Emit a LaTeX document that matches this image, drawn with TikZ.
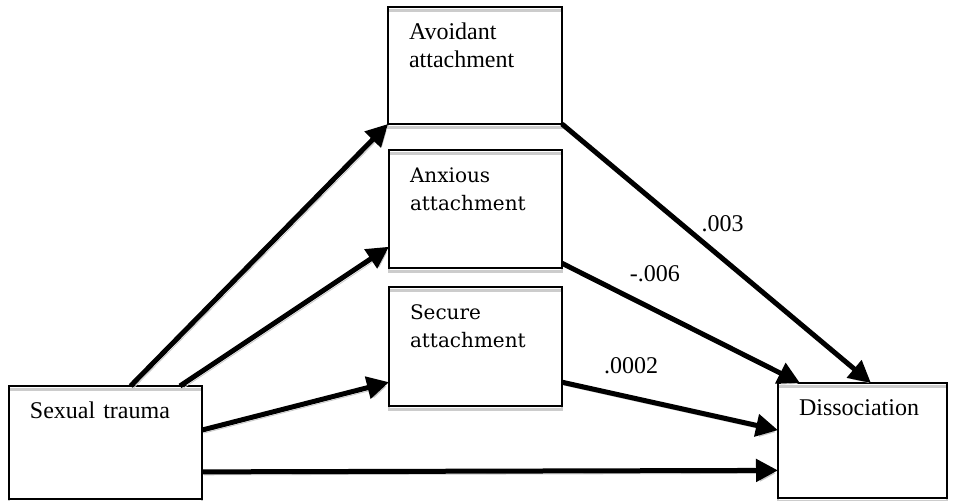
\documentclass[tikz,border=0pt]{standalone}
\usepackage{fontspec}
\setmainfont{Liberation Serif}
\newfontfamily\serifalt{DejaVu Serif}
\newcommand\altfont{\serifalt\fontsize{10}{14}\selectfont}
\usetikzlibrary{arrows.meta,calc}

\begin{document}
\begin{tikzpicture}[x=0.5pt,y=-0.5pt,
  every node/.style={font=\fontsize{12}{14}\selectfont},
  var/.style={draw,line width=1.1pt,rectangle,anchor=north west,align=left,
    outer sep=0pt,inner xsep=10.5pt,inner ysep=0pt,text height=16.5pt,
    preaction={draw=black!20,line width=1.1pt,transform canvas={yshift=-1.8pt}}},
  link/.style={line width=2.5pt,-{Triangle[length=11pt,width=11pt]},
    preaction={draw=black!22,transform canvas={shift={(1pt,-1.5pt)}}}},
  coef/.style={inner sep=1pt}]
\useasboundingbox (0,0) rectangle (959,501);
% variables
\node[var,text width=75.5pt,text depth=40pt] (trauma) at (9,386) {Sexual trauma};
\node[var,text width=66pt,text depth=42pt] (avoid) at (388,7) {Avoidant\\attachment};
\node[var,text width=65.5pt,text depth=42.5pt,font=\altfont] (anx) at (389,150) {Anxious\\attachment};
\node[var,text width=65.5pt,text depth=43pt,font=\altfont] (sec) at (389,287) {Secure\\attachment};
\node[var,text width=63.5pt,text depth=41pt] (diss) at (778,383) {Dissociation};
% paths
\draw[link] ($(trauma.north west)!0.63!(trauma.north east)$) -- (avoid.south west);
\draw[link] ($(trauma.north west)!0.886!(trauma.north east)$) -- ($(anx.north west)!0.82!(anx.south west)$);
\draw[link] ($(trauma.north east)!0.39!(trauma.south east)$) -- ($(sec.north west)!0.8!(sec.south west)$);
\draw[link] ($(trauma.north east)!0.76!(trauma.south east)$) -- ($(diss.north west)!0.76!(diss.south west)$);
\draw[link] (avoid.south east) -- node[coef,pos=0.52,above=11pt] {.003} ($(diss.north west)!0.55!(diss.north east)$);
\draw[link] ($(anx.north east)!0.96!(anx.south east)$) -- node[coef,pos=0.39,above=12pt] {-.006} ($(diss.north west)!0.13!(diss.north east)$);
\draw[link] ($(sec.north east)!0.8!(sec.south east)$) -- node[coef,pos=0.32,above=9.5pt] {.0002} ($(diss.north west)!0.41!(diss.south west)$);
\end{tikzpicture}
\end{document}
